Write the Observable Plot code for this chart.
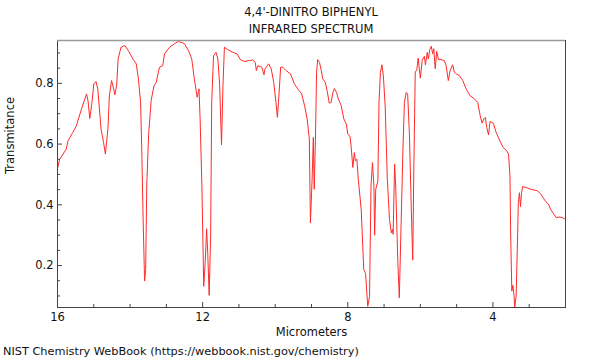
<!DOCTYPE html>
<html>
<head>
<meta charset="utf-8">
<script src="https://cdn.jsdelivr.net/npm/d3@7"></script>
<script src="https://cdn.jsdelivr.net/npm/@observablehq/plot@0.6"></script>
<style>
  html, body { margin: 0; padding: 0; background: #fff; }
  body { width: 600px; height: 360px; overflow: hidden; font-family: "DejaVu Sans", sans-serif; color: #111; }
  #title { box-sizing: border-box; height: 36px; width: 508px; margin-left: 57px; padding-top: 4px; text-align: center; font-size: 11.5px; line-height: 17px; overflow: visible; }
  #chart { height: 304px; }
  #caption { height: 20px; padding-left: 3px; font-size: 11.3px; line-height: 24px; }
  svg { display: block; }
</style>
</head>
<body>
<div id="title">4,4'-DINITRO BIPHENYL<br>INFRARED SPECTRUM</div>
<div id="chart"></div>
<div id="caption">NIST Chemistry WebBook (https://webbook.nist.gov/chemistry)</div>
<script>
// Wavelength (micrometers) and transmittance
const wavelength = [16.0,15.94,15.76,15.71,15.58,15.48,15.34,15.20,15.16,15.11,15.05,15.00,14.94,14.89,14.80,14.73,14.68,14.61,14.57,14.51,14.45,14.42,14.37,14.33,14.25,14.14,14.05,13.92,13.83,13.77,13.71,13.68,13.64,13.60,13.57,13.54,13.49,13.42,13.34,13.28,13.19,13.10,13.05,12.91,12.78,12.67,12.55,12.50,12.39,12.30,12.23,12.15,12.10,12.07,12.02,11.97,11.93,11.89,11.86,11.82,11.78,11.75,11.70,11.63,11.58,11.53,11.48,11.44,11.40,11.31,11.17,11.05,10.96,10.85,10.71,10.62,10.55,10.52,10.48,10.37,10.31,10.28,10.18,10.11,10.04,9.98,9.94,9.91,9.85,9.79,9.70,9.58,9.47,9.38,9.27,9.19,9.12,9.06,9.03,8.98,8.95,8.925,8.89,8.86,8.83,8.78,8.73,8.69,8.62,8.57,8.51,8.46,8.41,8.37,8.31,8.26,8.18,8.11,8.04,8.00,7.94,7.91,7.86,7.82,7.79,7.75,7.71,7.63,7.56,7.51,7.45,7.40,7.36,7.32,7.28,7.26,7.23,7.17,7.14,7.10,7.06,7.02,6.97,6.91,6.85,6.80,6.77,6.75,6.71,6.68,6.62,6.58,6.53,6.48,6.44,6.39,6.35,6.30,6.25,6.21,6.18,6.14,6.10,6.06,6.00,5.95,5.89,5.86,5.81,5.78,5.74,5.70,5.66,5.63,5.59,5.55,5.50,5.43,5.34,5.29,5.23,5.18,5.11,5.06,5.01,4.92,4.83,4.74,4.63,4.51,4.42,4.35,4.30,4.25,4.21,4.17,4.12,4.08,3.99,3.91,3.81,3.72,3.62,3.57,3.53,3.51,3.48,3.45,3.42,3.40,3.36,3.32,3.30,3.27,3.24,3.21,3.18,3.09,2.95,2.77,2.68,2.56,2.47,2.41,2.32,2.26,2.18,2.09,2.03];
const transmittance = [0.52,0.55,0.583,0.611,0.638,0.660,0.715,0.765,0.743,0.684,0.737,0.798,0.806,0.782,0.650,0.605,0.567,0.650,0.759,0.809,0.781,0.762,0.792,0.880,0.919,0.924,0.908,0.880,0.864,0.815,0.737,0.594,0.352,0.149,0.187,0.462,0.627,0.743,0.792,0.803,0.853,0.858,0.897,0.919,0.930,0.938,0.933,0.930,0.908,0.880,0.815,0.754,0.782,0.683,0.462,0.132,0.209,0.321,0.242,0.102,0.297,0.737,0.891,0.902,0.880,0.792,0.597,0.792,0.919,0.911,0.902,0.897,0.878,0.872,0.875,0.877,0.869,0.842,0.858,0.853,0.828,0.848,0.864,0.848,0.803,0.737,0.688,0.737,0.853,0.853,0.842,0.831,0.798,0.782,0.765,0.726,0.683,0.617,0.341,0.495,0.622,0.451,0.627,0.836,0.878,0.869,0.842,0.815,0.803,0.776,0.735,0.737,0.770,0.783,0.770,0.749,0.726,0.683,0.666,0.633,0.625,0.594,0.523,0.572,0.545,0.550,0.484,0.385,0.187,0.174,0.066,0.099,0.462,0.539,0.462,0.300,0.451,0.479,0.737,0.836,0.861,0.825,0.726,0.484,0.352,0.308,0.319,0.303,0.534,0.462,0.209,0.094,0.341,0.583,0.737,0.770,0.765,0.627,0.385,0.218,0.517,0.839,0.842,0.883,0.817,0.875,0.889,0.861,0.902,0.880,0.911,0.922,0.897,0.914,0.848,0.905,0.878,0.878,0.875,0.858,0.809,0.842,0.861,0.836,0.831,0.825,0.809,0.782,0.759,0.749,0.737,0.693,0.669,0.683,0.688,0.655,0.630,0.674,0.669,0.638,0.611,0.589,0.578,0.567,0.495,0.297,0.116,0.135,0.105,0.062,0.099,0.297,0.407,0.440,0.394,0.440,0.460,0.457,0.451,0.446,0.435,0.413,0.402,0.385,0.369,0.358,0.360,0.358,0.354];

const xDomain = [16, 2];
const yDomain = [0.062, 0.941];
const xMajorTicks = [16, 12, 8, 4];
const xMinorTicks = [15, 14, 13, 11, 10, 9, 7, 6, 5, 3];
const yMajorTicks = [0.2, 0.4, 0.6, 0.8];
const yMinorTicks = [0.1, 0.15, 0.25, 0.3, 0.35, 0.45, 0.5, 0.55, 0.65, 0.7, 0.75, 0.85, 0.9];

const spectrum = wavelength.map((w, i) => ({w, t: transmittance[i]}));

const W = 600, H = 304;
const mT = 4, mB = 33, mL = 57, mR = 35;
const innerH = H - mT - mB, innerW = W - mL - mR;
const axisColor = "#444";

const chart = Plot.plot({
  width: W,
  height: H,
  marginTop: mT,
  marginBottom: mB,
  marginLeft: mL,
  marginRight: mR,
  style: {fontFamily: "DejaVu Sans, sans-serif", fontSize: "11.5px", color: "#111", background: "#fff"},
  x: {domain: xDomain},
  y: {domain: yDomain},
  marks: [
    Plot.line(spectrum, {x: "w", y: "t", stroke: "#ff2a2a", strokeWidth: 1}),
    Plot.frame({stroke: axisColor}),
    Plot.ruleY([yDomain[1]], {stroke: "#9a9a9a", strokeWidth: 1.5}),
    Plot.tickX(xMajorTicks, {x: d => d, insetTop: innerH - 5, stroke: axisColor}),
    Plot.tickX(xMinorTicks, {x: d => d, insetTop: innerH - 3, stroke: axisColor}),
    Plot.tickY(yMajorTicks, {y: d => d, insetRight: innerW - 5, stroke: axisColor}),
    Plot.tickY(yMinorTicks, {y: d => d, insetRight: innerW - 3, stroke: axisColor}),
    Plot.axisX({ticks: xMajorTicks, tickSize: 0, tickPadding: 5, tickFormat: d => String(d), label: null}),
    Plot.axisY({ticks: yMajorTicks, tickSize: 0, tickPadding: 4, tickFormat: d => d.toFixed(1), label: null}),
    Plot.text(["Micrometers"], {frameAnchor: "bottom", dy: 28, text: d => d, fill: "#111"}),
    Plot.text(["Transmitance"], {frameAnchor: "left", dx: -47, rotate: -90, text: d => d, fill: "#111"})
  ]
});
document.getElementById("chart").appendChild(chart);
</script>
</body>
</html>
